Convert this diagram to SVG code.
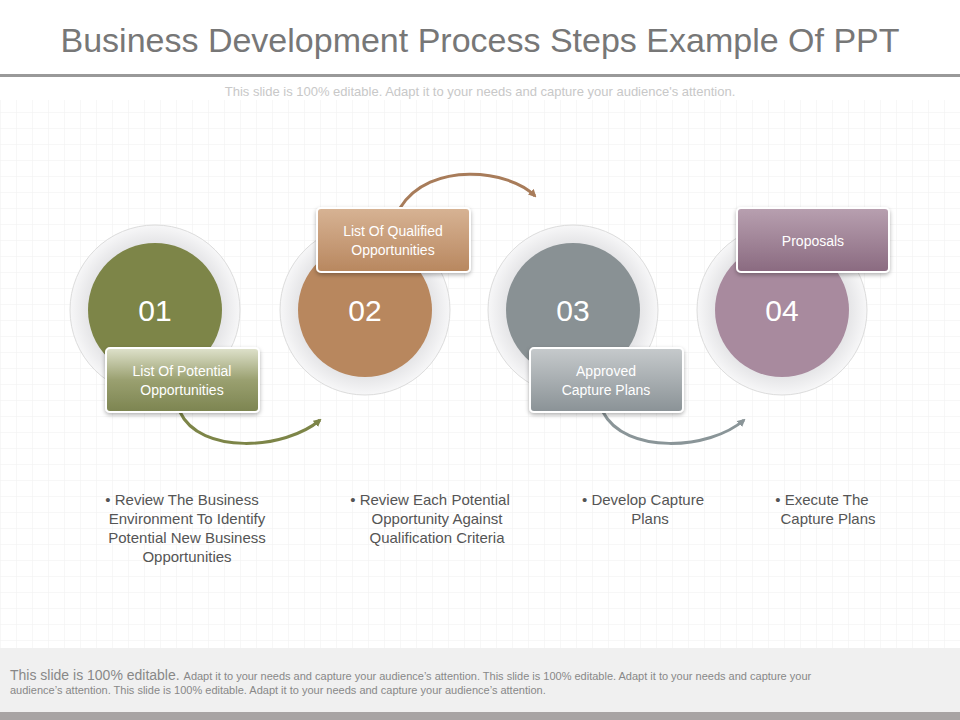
<svg xmlns="http://www.w3.org/2000/svg" width="960" height="720" viewBox="0 0 960 720">
<defs>
<pattern id="grid" width="16" height="16" patternUnits="userSpaceOnUse"><path d="M16 0H0V16" fill="none" stroke="#f0f0f0" stroke-width="1"/></pattern>
<radialGradient id="ring" cx="0.5" cy="0.5" r="0.5"><stop offset="0.8" stop-color="#e6e6e8"/><stop offset="1" stop-color="#f7f7f8"/></radialGradient>
<linearGradient id="g1" x1="0" y1="0" x2="0" y2="1"><stop offset="0" stop-color="#dfe2cc"/><stop offset="0.5" stop-color="#9aa070"/><stop offset="1" stop-color="#7c8450"/></linearGradient>
<linearGradient id="g2" x1="0" y1="0" x2="0" y2="1"><stop offset="0" stop-color="#d7b394"/><stop offset="1" stop-color="#b8875f"/></linearGradient>
<linearGradient id="g3" x1="0" y1="0" x2="0" y2="1"><stop offset="0" stop-color="#c6cacc"/><stop offset="1" stop-color="#8a9296"/></linearGradient>
<linearGradient id="g4" x1="0" y1="0" x2="0" y2="1"><stop offset="0" stop-color="#b8a0b0"/><stop offset="1" stop-color="#8a6a80"/></linearGradient>
<marker id="a1" markerWidth="8" markerHeight="8" refX="6" refY="4" orient="auto" markerUnits="userSpaceOnUse"><path d="M0 0L8 4L0 8Z" fill="#7d8548"/></marker>
<marker id="a2" markerWidth="8" markerHeight="8" refX="6" refY="4" orient="auto" markerUnits="userSpaceOnUse"><path d="M0 0L8 4L0 8Z" fill="#a87c5a"/></marker>
<marker id="a3" markerWidth="8" markerHeight="8" refX="6" refY="4" orient="auto" markerUnits="userSpaceOnUse"><path d="M0 0L8 4L0 8Z" fill="#8a9598"/></marker>
<filter id="sh" x="-20%" y="-20%" width="140%" height="140%"><feDropShadow dx="0" dy="2" stdDeviation="2" flood-color="#000" flood-opacity="0.3"/></filter>
</defs>
<style>
text{font-family:"Liberation Sans",Arial,sans-serif}
.num{font-size:30px;fill:#fff;text-anchor:middle}
.lbl{font-size:14px;fill:#fff;text-anchor:middle}
.desc{font-size:15px;fill:#555;text-anchor:middle}
.box{stroke:#fff;stroke-width:2;filter:url(#sh)}
.ringc{fill:url(#ring);stroke:#dcdcdc;stroke-width:1}
</style>
<rect width="960" height="720" fill="#fff"/>
<rect y="100" width="960" height="548" fill="url(#grid)"/>
<text x="480" y="52" font-size="34" fill="#777" text-anchor="middle">Business Development Process Steps Example Of PPT</text>
<rect x="0" y="74" width="960" height="3" fill="#999"/>
<text x="480" y="96" font-size="13" fill="#c8c8c8" text-anchor="middle">This slide is 100% editable. Adapt it to your needs and capture your audience's attention.</text>
<g id="connectors" fill="none" stroke-width="3">
<path d="M180 412 C200 455 285 450 320 420" stroke="#7d8548" marker-end="url(#a1)"/>
<path d="M400 208 C430 160 510 170 535 196" stroke="#a87c5a" marker-end="url(#a2)"/>
<path d="M603 412 C625 455 710 450 744 420" stroke="#8a9598" marker-end="url(#a3)"/>
</g>
<g id="node1"><circle cx="155" cy="310" r="85" class="ringc"/><circle cx="155" cy="310" r="67" fill="#7d8548"/><text x="155" y="321" class="num">01</text>
<rect x="106" y="348" width="153" height="64" rx="4" fill="url(#g1)" class="box"/><text x="182" y="376" class="lbl">List Of Potential</text><text x="182" y="395" class="lbl">Opportunities</text></g>
<g id="node2"><circle cx="365" cy="310" r="85" class="ringc"/><circle cx="365" cy="310" r="67" fill="#b8875e"/><text x="365" y="321" class="num">02</text>
<rect x="317" y="208" width="153" height="64" rx="4" fill="url(#g2)" class="box"/><text x="393" y="236" class="lbl">List Of Qualified</text><text x="393" y="255" class="lbl">Opportunities</text></g>
<g id="node3"><circle cx="573" cy="310" r="85" class="ringc"/><circle cx="573" cy="310" r="67" fill="#899194"/><text x="573" y="321" class="num">03</text>
<rect x="530" y="348" width="153" height="64" rx="4" fill="url(#g3)" class="box"/><text x="606" y="376" class="lbl">Approved</text><text x="606" y="395" class="lbl">Capture Plans</text></g>
<g id="node4"><circle cx="782" cy="310" r="85" class="ringc"/><circle cx="782" cy="310" r="67" fill="#a88a9e"/><text x="782" y="321" class="num">04</text>
<rect x="737" y="208" width="152" height="64" rx="4" fill="url(#g4)" class="box"/><text x="813" y="246" class="lbl">Proposals</text></g>
<g id="descs">
<text class="desc"><tspan x="182" y="505">• Review The Business</tspan><tspan x="187" y="524">Environment  To Identify</tspan><tspan x="187" y="543">Potential New Business</tspan><tspan x="187" y="562">Opportunities</tspan></text>
<text class="desc"><tspan x="430" y="505">• Review Each Potential</tspan><tspan x="437" y="524">Opportunity Against</tspan><tspan x="437" y="543">Qualification Criteria</tspan></text>
<text class="desc"><tspan x="643" y="505">• Develop Capture</tspan><tspan x="650" y="524">Plans</tspan></text>
<text class="desc"><tspan x="822" y="505">• Execute The</tspan><tspan x="828" y="524">Capture Plans</tspan></text>
</g>
<rect x="0" y="648" width="960" height="64" fill="#f0f0f0"/>
<rect x="0" y="712" width="960" height="8" fill="#a8a4a4"/>
<text x="10" y="680" font-size="14" fill="#888">This slide is 100% editable. <tspan font-size="11">Adapt it to your needs and capture your audience’s attention. This slide is 100% editable. Adapt it to your needs and capture your</tspan></text>
<text x="10" y="694" font-size="11" fill="#888">audience’s attention. This slide is 100% editable. Adapt it to your needs and capture your audience’s attention.</text>
</svg>
